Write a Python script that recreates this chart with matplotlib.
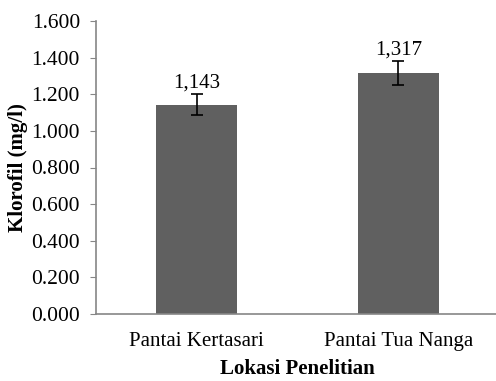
import numpy as np
import matplotlib.pyplot as plt

plt.rcParams['font.family'] = ['Liberation Serif', 'DejaVu Serif']

lokasi = ['Pantai Kertasari', 'Pantai Tua Nanga']
klorofil = [1.143, 1.317]
galat = [0.058, 0.065]
label_nilai = ['1,143', '1,317']
yticks = np.arange(0, 1.601, 0.2)

fig = plt.figure(figsize=(4.96, 3.81), dpi=100)
ax = fig.add_axes([96 / 496, 1 - 314 / 381, 403 / 496, 293 / 381])

x = np.arange(len(lokasi))
ax.bar(x, klorofil, width=0.4, color='#606060', zorder=2)
ax.errorbar(x, klorofil, yerr=galat, fmt='none', ecolor='black',
            elinewidth=1.2, capsize=4.5, capthick=1.2, zorder=3)

for xi, v, e, s in zip(x, klorofil, galat, label_nilai):
    ax.annotate(s, (xi, v + e), xytext=(0, 1), textcoords='offset points',
                ha='center', va='bottom', fontsize=15)

ax.set_xlim(-0.5, 1.5)
ax.set_ylim(0, 1.6)
ax.set_yticks(yticks)
ax.set_yticklabels([f'{t:.3f}' for t in yticks])
ax.set_xticks(x)
ax.set_xticklabels(lokasi)
ax.tick_params(axis='x', length=0, pad=13, labelsize=15)
ax.tick_params(axis='y', length=4.5, color='#868686', labelsize=15.5, pad=7)

for side in ['top', 'right']:
    ax.spines[side].set_visible(False)
for side in ['left', 'bottom']:
    ax.spines[side].set_color('#868686')
    ax.spines[side].set_linewidth(1.2)

ax.set_ylabel('Klorofil (mg/l)', fontweight='bold', fontsize=15)
ax.yaxis.set_label_coords(-0.169, 0.5)
ax.set_xlabel('Lokasi Penelitian', fontweight='bold', fontsize=15, labelpad=6)

fig.savefig('out.png', dpi=100)
